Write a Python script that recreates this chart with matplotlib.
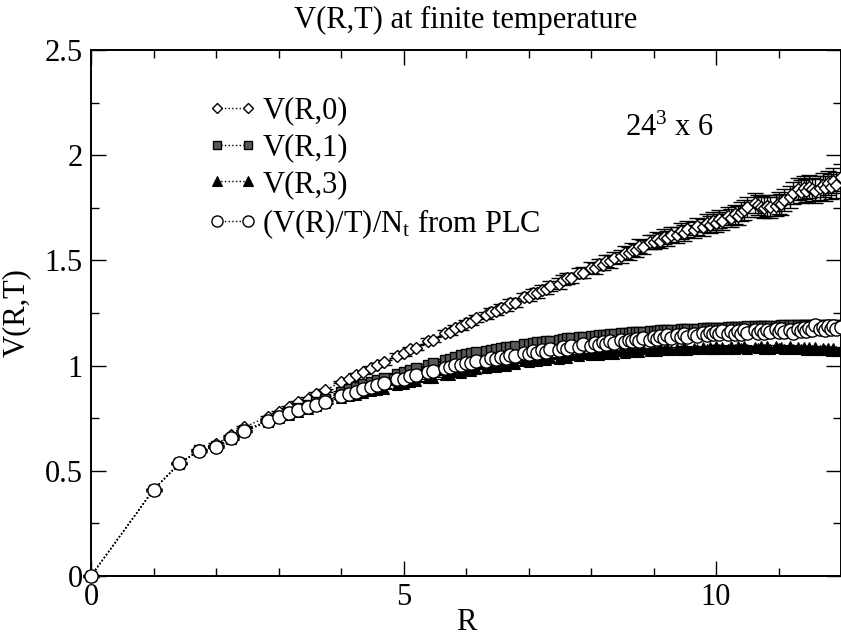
#!/usr/bin/env python3
"""V(R,T) at finite temperature -- 24^3 x 6 lattice, Grace-style replot."""

import matplotlib
matplotlib.use("Agg")
import matplotlib.pyplot as plt
from matplotlib.lines import Line2D
from matplotlib.ticker import MultipleLocator

# lattice separations R (sqrt of allowed n), one row per 10 points
R = [0.0, 1.000, 1.414, 1.732, 2.000, 2.236, 2.449, 2.828, 3.000, 3.162,
     3.317, 3.464, 3.606, 3.742, 4.000, 4.123, 4.243, 4.359, 4.472, 4.583,
     4.690, 4.899, 5.000, 5.099, 5.196, 5.385, 5.477, 5.657, 5.745, 5.831,
     5.916, 6.000, 6.083, 6.164, 6.325, 6.403, 6.481, 6.557, 6.633, 6.708,
     6.782, 6.928, 7.000, 7.071, 7.141, 7.211, 7.280, 7.348, 7.483, 7.550,
     7.616, 7.681, 7.810, 7.874, 8.000, 8.062, 8.124, 8.185, 8.246, 8.307,
     8.367, 8.485, 8.544, 8.602, 8.660, 8.718, 8.775, 8.832, 8.944, 9.000,
     9.055, 9.110, 9.165, 9.220, 9.274, 9.381, 9.434, 9.487, 9.539, 9.644,
     9.695, 9.798, 9.849, 9.899, 9.950, 10.000, 10.050, 10.100, 10.198, 10.247,
     10.296, 10.344, 10.392, 10.440, 10.488, 10.630, 10.677, 10.724, 10.770, 10.817,
     10.863, 10.954, 11.000, 11.045, 11.091, 11.180, 11.225, 11.314, 11.358, 11.402,
     11.446, 11.489, 11.533, 11.576, 11.662, 11.705, 11.747, 11.790, 11.832, 11.874,
     11.916, 12.000]

V0 = [0.0, 0.410, 0.535, 0.600, 0.627, 0.668, 0.707, 0.757, 0.780, 0.802,
      0.826, 0.843, 0.867, 0.882, 0.922, 0.935, 0.957, 0.968, 0.988, 1.001,
      1.015, 1.048, 1.058, 1.077, 1.085, 1.117, 1.124, 1.155, 1.161, 1.179,
      1.186, 1.204, 1.208, 1.225, 1.240, 1.256, 1.260, 1.276, 1.279, 1.296,
      1.299, 1.325, 1.327, 1.343, 1.345, 1.361, 1.362, 1.379, 1.390, 1.407,
      1.414, 1.416, 1.440, 1.441, 1.466, 1.463, 1.481, 1.480, 1.498, 1.495,
      1.512, 1.520, 1.537, 1.533, 1.551, 1.548, 1.567, 1.563, 1.589, 1.586,
      1.600, 1.594, 1.612, 1.605, 1.623, 1.620, 1.638, 1.630, 1.648, 1.645,
      1.662, 1.658, 1.678, 1.670, 1.688, 1.679, 1.696, 1.689, 1.712, 1.702,
      1.720, 1.712, 1.731, 1.740, 1.752, 1.772, 1.765, 1.756, 1.750, 1.760,
      1.752, 1.760, 1.772, 1.766, 1.785, 1.802, 1.822, 1.838, 1.826, 1.845,
      1.832, 1.851, 1.838, 1.830, 1.845, 1.860, 1.842, 1.867, 1.851, 1.879,
      1.858, 1.895]

V0_err = [0.0, 0.002, 0.002, 0.003, 0.003, 0.003, 0.004, 0.004, 0.005, 0.005,
          0.005, 0.006, 0.006, 0.007, 0.007, 0.008, 0.008, 0.008, 0.009, 0.009,
          0.010, 0.010, 0.011, 0.011, 0.012, 0.012, 0.013, 0.013, 0.014, 0.014,
          0.015, 0.015, 0.016, 0.016, 0.017, 0.017, 0.018, 0.018, 0.019, 0.019,
          0.020, 0.020, 0.021, 0.021, 0.022, 0.022, 0.023, 0.023, 0.024, 0.024,
          0.025, 0.025, 0.026, 0.026, 0.027, 0.027, 0.028, 0.028, 0.029, 0.029,
          0.030, 0.030, 0.031, 0.031, 0.032, 0.032, 0.033, 0.033, 0.034, 0.034,
          0.035, 0.035, 0.036, 0.036, 0.037, 0.037, 0.038, 0.038, 0.039, 0.039,
          0.040, 0.040, 0.041, 0.041, 0.042, 0.042, 0.043, 0.043, 0.044, 0.044,
          0.045, 0.045, 0.046, 0.046, 0.047, 0.047, 0.048, 0.048, 0.049, 0.049,
          0.050, 0.050, 0.051, 0.051, 0.052, 0.052, 0.053, 0.053, 0.054, 0.054,
          0.055, 0.055, 0.056, 0.056, 0.057, 0.057, 0.058, 0.058, 0.059, 0.059,
          0.060, 0.065]

V1 = [0.0, 0.410, 0.536, 0.597, 0.617, 0.657, 0.692, 0.738, 0.760, 0.779,
      0.798, 0.812, 0.827, 0.842, 0.875, 0.888, 0.899, 0.911, 0.923, 0.933,
      0.943, 0.962, 0.971, 0.981, 0.989, 1.003, 1.011, 1.026, 1.033, 1.040,
      1.049, 1.055, 1.059, 1.063, 1.071, 1.075, 1.079, 1.083, 1.087, 1.090,
      1.094, 1.101, 1.105, 1.108, 1.111, 1.113, 1.116, 1.119, 1.124, 1.127,
      1.129, 1.131, 1.135, 1.138, 1.140, 1.142, 1.144, 1.146, 1.147, 1.149,
      1.151, 1.154, 1.155, 1.157, 1.158, 1.160, 1.161, 1.162, 1.164, 1.165,
      1.166, 1.167, 1.168, 1.169, 1.170, 1.171, 1.172, 1.173, 1.173, 1.175,
      1.176, 1.177, 1.178, 1.178, 1.179, 1.180, 1.181, 1.181, 1.182, 1.183,
      1.183, 1.184, 1.184, 1.185, 1.186, 1.187, 1.187, 1.188, 1.188, 1.189,
      1.189, 1.190, 1.190, 1.191, 1.191, 1.191, 1.192, 1.192, 1.192, 1.193,
      1.193, 1.193, 1.193, 1.194, 1.194, 1.194, 1.194, 1.194, 1.195, 1.195,
      1.195, 1.195]

V3 = [0.0, 0.410, 0.534, 0.594, 0.613, 0.652, 0.687, 0.731, 0.750, 0.766,
      0.780, 0.794, 0.808, 0.820, 0.845, 0.854, 0.862, 0.870, 0.878, 0.886,
      0.891, 0.910, 0.913, 0.924, 0.925, 0.941, 0.941, 0.957, 0.957, 0.968,
      0.967, 0.978, 0.976, 0.986, 0.987, 0.997, 0.993, 1.004, 1.000, 1.011,
      1.006, 1.021, 1.016, 1.027, 1.021, 1.032, 1.025, 1.037, 1.033, 1.044,
      1.037, 1.049, 1.044, 1.056, 1.050, 1.061, 1.052, 1.064, 1.055, 1.067,
      1.057, 1.070, 1.061, 1.073, 1.063, 1.075, 1.065, 1.078, 1.068, 1.081,
      1.070, 1.082, 1.072, 1.085, 1.074, 1.084, 1.073, 1.087, 1.076, 1.086,
      1.077, 1.090, 1.079, 1.088, 1.080, 1.092, 1.078, 1.089, 1.081, 1.093,
      1.080, 1.091, 1.082, 1.094, 1.079, 1.090, 1.083, 1.095, 1.081, 1.092,
      1.080, 1.093, 1.082, 1.090, 1.078, 1.092, 1.081, 1.089, 1.077, 1.090,
      1.076, 1.088, 1.074, 1.087, 1.073, 1.085, 1.072, 1.084, 1.070, 1.083,
      1.069, 1.078]

PLC = [0.0, 0.410, 0.535, 0.595, 0.615, 0.655, 0.690, 0.735, 0.755, 0.773,
       0.790, 0.802, 0.815, 0.828, 0.855, 0.866, 0.876, 0.887, 0.897, 0.906,
       0.915, 0.934, 0.938, 0.951, 0.954, 0.971, 0.972, 0.990, 0.991, 1.002,
       1.002, 1.014, 1.010, 1.022, 1.024, 1.036, 1.030, 1.041, 1.037, 1.049,
       1.046, 1.061, 1.055, 1.068, 1.062, 1.074, 1.067, 1.079, 1.075, 1.088,
       1.081, 1.092, 1.088, 1.101, 1.094, 1.108, 1.099, 1.112, 1.103, 1.115,
       1.107, 1.121, 1.112, 1.124, 1.115, 1.128, 1.118, 1.131, 1.122, 1.136,
       1.126, 1.139, 1.130, 1.144, 1.132, 1.147, 1.136, 1.150, 1.138, 1.152,
       1.141, 1.156, 1.145, 1.160, 1.148, 1.162, 1.150, 1.163, 1.151, 1.165,
       1.152, 1.166, 1.150, 1.168, 1.155, 1.170, 1.153, 1.167, 1.156, 1.171,
       1.158, 1.172, 1.160, 1.175, 1.162, 1.170, 1.157, 1.176, 1.163, 1.178,
       1.165, 1.180, 1.168, 1.195, 1.172, 1.183, 1.169, 1.186, 1.173, 1.188,
       1.176, 1.182]

LABELS = ["V(R,0)", "V(R,1)", "V(R,3)", r"(V(R)/T)/N$_\mathrm{t}$ from PLC"]

FS = 22
plt.rcParams["font.family"] = ["Liberation Serif", "DejaVu Serif"]
plt.rcParams["mathtext.fontset"] = "custom"
plt.rcParams["mathtext.rm"] = "Liberation Serif"
plt.rcParams["mathtext.it"] = "Liberation Serif:italic"
plt.rcParams["font.size"] = FS

fig = plt.figure(figsize=(8.41, 6.37), dpi=100)
ax = fig.add_axes([91 / 841, 1 - 576 / 637, 750 / 841, 526 / 637])

styles = [
    dict(marker="D", ms=6.5, mfc="white", mec="black", mew=1.0),
    dict(marker="s", ms=7.0, mfc="0.35", mec="black", mew=1.0),
    dict(marker="^", ms=7.5, mfc="black", mec="black", mew=0.8),
    dict(marker="o", ms=9.5, mfc="white", mec="black", mew=1.0),
]
series = [(V0, V0_err), (V1, 0.004), (V3, 0.004), (PLC, 0.004)]

for k, ((y, err), st) in enumerate(zip(series, styles)):
    ax.errorbar(R, y, yerr=err, ls=":", lw=1.0, color="black",
                 elinewidth=1.0, capsize=5.5, capthick=1.0,
                 zorder=3 + k, clip_on=False, **st)

ax.set_xlim(0, 12)
ax.set_ylim(0, 2.5)
ax.xaxis.set_major_locator(MultipleLocator(5))
ax.xaxis.set_minor_locator(MultipleLocator(1))
ax.yaxis.set_major_locator(MultipleLocator(0.5))
ax.yaxis.set_minor_locator(MultipleLocator(0.25))
ax.yaxis.set_major_formatter(plt.FuncFormatter(lambda v, p: f"{v:g}"))
ax.tick_params(which="both", direction="in", top=True, right=True,
               labelsize=FS, width=1.0)
ax.tick_params(which="major", length=11, pad=5)
ax.tick_params(which="minor", length=5.5)
ax.tick_params(axis="y", which="major", pad=6)
for s in ax.spines.values():
    s.set_linewidth(1.4)

ax.set_xlabel("R", fontsize=FS, labelpad=-3)
ax.set_ylabel("V(R,T)", fontsize=FS, labelpad=10)
ax.set_title("V(R,T) at finite temperature", fontsize=FS, pad=16)

ax.text(0.712, 0.837, r"24$^{3}$ x 6", transform=ax.transAxes,
        fontsize=FS, va="baseline", ha="left")

leg_ms = [5.0, 6.0, 7.0, 8.0]
handles = [Line2D([], [], ls=":", lw=1.0, color="black",
                  **{**st, "ms": m}) for st, m in zip(styles, leg_ms)]
ax.legend(handles, LABELS, loc="upper left", bbox_to_anchor=(0.156, 0.912),
          frameon=False, numpoints=2, handlelength=1.6, handletextpad=0.18,
          labelspacing=0.26, borderpad=0, borderaxespad=0, fontsize=FS)

fig.savefig("out.png", dpi=100)
